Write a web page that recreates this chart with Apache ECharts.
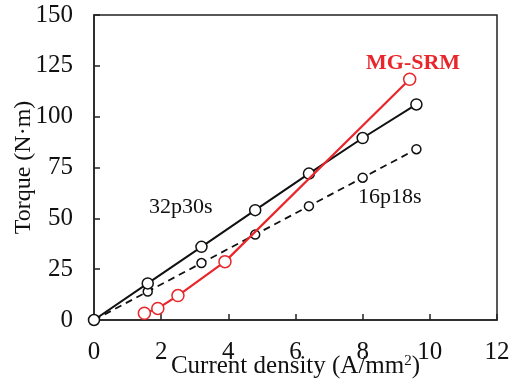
<!DOCTYPE html>
<html>
<head>
<meta charset="utf-8">
<script src="https://cdn.jsdelivr.net/npm/echarts@6/dist/echarts.min.js"></script>
<style>
  html, body { margin: 0; padding: 0; background: #fff; }
  #chart { width: 516px; height: 383px; }
</style>
</head>
<body>
<div id="chart"></div>
<script>
// Torque vs. current density for three machine designs
const xTicks = [0, 2, 4, 6, 8, 10, 12];
const yTicks = [0, 25, 50, 75, 100, 125, 150];

const s32p30sX = [0, 1.6, 3.2, 4.8, 6.4, 8.0, 9.6];
const s32p30sY = [0, 18, 36, 54, 72, 89.5, 106];

const s16p18sX = [0, 1.6, 3.2, 4.8, 6.4, 8.0, 9.6];
const s16p18sY = [0, 14, 28, 42, 56, 70, 84];

const mgSrmX = [1.5, 1.9, 2.5, 3.9, 9.4];
const mgSrmY = [3.3, 5.7, 12, 28.7, 118.4];

const serif = '"Liberation Serif", "Times New Roman", serif';
const red = '#e8262b';

const pairs = (xs, ys) => xs.map((x, i) => [x, ys[i]]);

const chart = echarts.init(document.getElementById('chart'));
chart.setOption({
  animation: false,
  backgroundColor: '#fff',
  grid: {
    left: 94, top: 15, right: 19, bottom: 63,
    containLabel: false,
    outerBoundsMode: 'none',
    show: true, borderColor: '#222', borderWidth: 1.5, backgroundColor: 'transparent'
  },
  xAxis: {
    type: 'value',
    min: xTicks[0], max: xTicks[xTicks.length - 1], interval: 2,
    name: 'Current density (A/mm{sup|2})',
    nameLocation: 'middle',
    nameGap: 34,
    nameMoveOverlap: false,
    nameTextStyle: {
      fontFamily: serif, fontSize: 25, color: '#111',
      rich: { sup: { fontFamily: serif, fontSize: 15, color: '#111', verticalAlign: 'top', padding: [0, 0, 10, 0] } }
    },
    axisLine: { lineStyle: { color: '#222', width: 1.5 } },
    axisTick: { inside: true, length: 6, lineStyle: { color: '#222', width: 1.5 } },
    axisLabel: { fontFamily: serif, fontSize: 25, color: '#111', margin: 20 },
    splitLine: { show: false }
  },
  yAxis: {
    type: 'value',
    min: yTicks[0], max: yTicks[yTicks.length - 1], interval: 25,
    name: 'Torque (N·m)',
    nameLocation: 'middle',
    nameGap: 58,
    nameMoveOverlap: false,
    nameTextStyle: { fontFamily: serif, fontSize: 24, color: '#111' },
    axisLine: { lineStyle: { color: '#222', width: 1.5 } },
    axisTick: { inside: true, length: 6, lineStyle: { color: '#222', width: 1.5 } },
    axisLabel: { fontFamily: serif, fontSize: 25, color: '#111', margin: 21 },
    splitLine: { show: false }
  },
  series: [
    {
      name: '16p18s', type: 'line',
      data: pairs(s16p18sX, s16p18sY),
      symbol: 'circle', symbolSize: 9,
      itemStyle: { color: '#fff', borderColor: '#111', borderWidth: 1.5 },
      lineStyle: { color: '#111', width: 1.8, type: [7, 5] },
      z: 2
    },
    {
      name: '32p30s', type: 'line',
      data: pairs(s32p30sX, s32p30sY),
      symbol: 'circle', symbolSize: 11,
      itemStyle: { color: '#fff', borderColor: '#111', borderWidth: 1.5 },
      lineStyle: { color: '#111', width: 2 },
      z: 3
    },
    {
      name: 'MG-SRM', type: 'line',
      data: pairs(mgSrmX, mgSrmY),
      symbol: 'circle', symbolSize: 12,
      itemStyle: { color: '#fff', borderColor: red, borderWidth: 1.5 },
      lineStyle: { color: red, width: 2.2 },
      z: 4
    }
  ],
  graphic: [
    { type: 'text', left: 149, top: 196, style: { text: '32p30s', font: '22px ' + serif, fill: '#111' } },
    { type: 'text', left: 358, top: 186, style: { text: '16p18s', font: '22px ' + serif, fill: '#111' } },
    { type: 'text', left: 366, top: 52, style: { text: 'MG-SRM', font: 'bold 22px ' + serif, fill: red } }
  ]
});
</script>
</body>
</html>
